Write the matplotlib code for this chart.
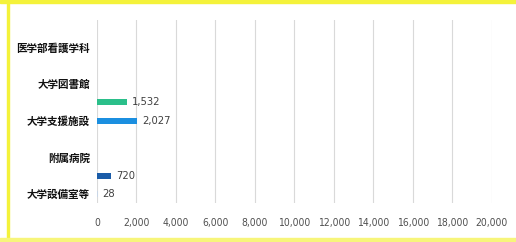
import matplotlib.pyplot as plt
from matplotlib.patches import Rectangle

# categories bottom -> top (only every other label is shown in the original)
labels = ['大学設備室等', '', '附属病院', '', '大学支援施設', '', '大学図書館', '', '医学部看護学科', '']
values = [28, 720, 0, 0, 2027, 1532, 0, 0, 0, 0]
colors = ['#c9d6e6', '#1a5ca8', '#1a5ca8', '#1a5ca8', '#1b8fe0', '#2bbf8a',
          '#2bbf8a', '#2bbf8a', '#2bbf8a', '#2bbf8a']
xticks = list(range(0, 20001, 2000))

plt.rcParams['font.family'] = ['Noto Sans CJK JP', 'DejaVu Sans']
numfont = ['DejaVu Sans']

fig = plt.figure(figsize=(5.16, 2.42), dpi=100)
ax = fig.add_axes([0.188, 0.161, 0.765, 0.756])

pos = list(range(len(values)))
ax.barh(pos, values, height=0.33, color=colors, zorder=3)

for p, v in zip(pos, values):
    if v > 0:
        ax.text(v + 250, p, f'{v:,}', va='center', ha='left', fontsize=8,
                color='#404040', family=numfont, stretch='condensed')

ax.set_xlim(0, 20000)
ax.set_ylim(-0.5, len(values) - 0.5)
ax.set_xticks(xticks)
ax.set_xticklabels([f'{t:,}' for t in xticks], fontsize=7.5, color='#505050',
                   family=numfont, stretch='condensed')
ax.set_yticks(pos)
ax.set_yticklabels(labels, fontsize=7.6, fontweight='bold', color='#111111')
ax.tick_params(length=0, pad=5)
ax.tick_params(axis='x', pad=11)
ax.grid(axis='x', color='#d9d9d9', linewidth=0.8, zorder=0)
for s in ax.spines.values():
    s.set_visible(False)

# yellow frame around the pasted screenshot
fig.patches.append(Rectangle((0, 1 - 3 / 242), 1, 3 / 242, transform=fig.transFigure,
                             color='#f4f23a', zorder=0))
fig.patches.append(Rectangle((7 / 516, 0), 2 / 516, 1, transform=fig.transFigure,
                             color='#f4f23a', zorder=0))
fig.patches.append(Rectangle((0, 1 / 242), 1, 3 / 242, transform=fig.transFigure,
                             color='#f7f57a', zorder=0))

fig.savefig('out.png', dpi=100)
